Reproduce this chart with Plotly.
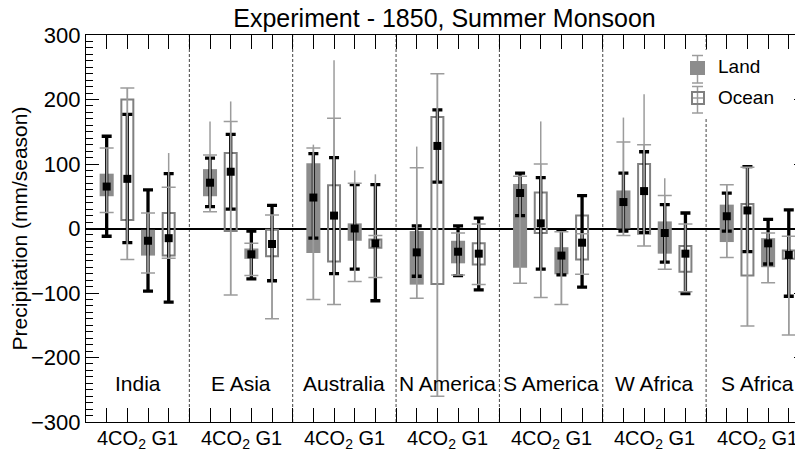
import numpy as np
import plotly.graph_objects as go

regions = ["India", "E Asia", "Australia", "N America", "S America", "W Africa", "S Africa"]

# every row is one region, columns: 4CO2 land, 4CO2 ocean, G1 land, G1 ocean
mid = [
    [65, 77, -19, -15],
    [71, 88, -40, -24],
    [48, 20, 0, -23],
    [-37, 128, -36, -39],
    [55, 8, -42, -22],
    [41, 58, -7, -39],
    [19, 28, -23, -41],
]
bar_lo = [
    [50, 13, -42, -42],
    [50, -4, -47, -43],
    [-38, -51, -19, -30],
    [-87, -86, -54, -56],
    [-61, -7, -71, -48],
    [0, -8, -39, -67],
    [-21, -73, -60, -47],
]
bar_hi = [
    [85, 200, -2, 24],
    [92, 117, -31, -2],
    [101, 67, 8, -17],
    [-4, 173, -19, -23],
    [69, 56, -29, 20],
    [59, 100, 11, -27],
    [37, 38, -15, -34],
]
# black error bars
blk_lo = [
    [-12, -22, -97, -114],
    [34, 30, -78, -81],
    [-15, -70, -63, -112],
    [-74, 72, -73, -95],
    [20, -63, -72, -91],
    [-4, -6, -52, -101],
    [-4, -36, -55, -105],
]
blk_hi = [
    [143, 177, 60, 85],
    [109, 146, -4, 36],
    [116, 110, 68, 68],
    [4, 184, 4, 16],
    [86, 79, -3, 51],
    [86, 119, 37, 24],
    [55, 96, 14, 29],
]
# grey whisker caps
cap_lo = [
    [25, -48, -69, -46],
    [26, -103, -73, -140],
    [-110, -118, -82, -76],
    [-108, -260, -72, -87],
    [-85, -107, -118, -71],
    [-11, -27, -63, -98],
    [-45, -151, -84, -165],
]
cap_hi = [
    [125, 218, 24, 64],
    [114, 166, -23, 21],
    [125, 171, 70, -11],
    [94, 240, -7, 7],
    [81, 100, -5, -8],
    [134, 130, 51, 7],
    [68, 95, -7, -12],
]
# top end of the thin grey line (bottom ends at the cap)
line_hi = [
    [125, 218, 24, 117],
    [166, 197, -23, 21],
    [130, 261, 90, 84],
    [127, 240, -7, 7],
    [81, 166, -5, -8],
    [172, 208, 78, 7],
    [68, 95, -7, -12],
]

FONT = "Liberation Sans, Arial, sans-serif"
GREY_BAR = "#8c8c8c"
GREY_BOX = "#808080"
GREY_LINE = "#9c9c9c"

n_reg = len(regions)
xpos = np.array([[5 * r + k + 1 for k in range(4)] for r in range(n_reg)])

mid_a = np.array(mid)
lo_a, hi_a = np.array(bar_lo), np.array(bar_hi)
land = [0, 2]
ocean = [1, 3]

traces = []

# land boxes (filled)
traces.append(go.Bar(x=xpos[:, land].ravel(), base=lo_a[:, land].ravel(),
                     y=(hi_a - lo_a)[:, land].ravel(), width=0.68,
                     marker=dict(color=GREY_BAR, line=dict(width=0))))
# ocean boxes (open)
traces.append(go.Bar(x=xpos[:, ocean].ravel(), base=lo_a[:, ocean].ravel(),
                     y=(hi_a - lo_a)[:, ocean].ravel(), width=0.58,
                     marker=dict(color="rgba(0,0,0,0)", line=dict(width=2, color=GREY_BOX))))

x_all = xpos.ravel()
m_all = mid_a.ravel()
clear = dict(size=1, color="rgba(0,0,0,0)")

# black error bars
traces.append(go.Scatter(x=x_all, y=m_all, mode="markers", marker=clear,
                         error_y=dict(type="data", symmetric=False,
                                      array=np.array(blk_hi).ravel() - m_all,
                                      arrayminus=m_all - np.array(blk_lo).ravel(),
                                      color="black", thickness=3.3, width=5)))
# thin grey line over the full range
traces.append(go.Scatter(x=x_all, y=m_all, mode="markers", marker=clear,
                         error_y=dict(type="data", symmetric=False,
                                      array=np.array(line_hi).ravel() - m_all,
                                      arrayminus=m_all - np.array(cap_lo).ravel(),
                                      color=GREY_LINE, thickness=1.5, width=0)))
# grey caps
traces.append(go.Scatter(x=x_all, y=m_all, mode="markers", marker=clear,
                         error_y=dict(type="data", symmetric=False,
                                      array=np.array(cap_hi).ravel() - m_all,
                                      arrayminus=m_all - np.array(cap_lo).ravel(),
                                      color=GREY_LINE, thickness=1.5, width=7)))
# centre squares
traces.append(go.Scatter(x=x_all, y=m_all, mode="markers", yaxis="y2",
                         marker=dict(symbol="square", size=8, color="black",
                                     line=dict(width=0))))

# the page body adds 8px around the figure, so the figure is 8px smaller
OFF = 8
W, H = 803 - OFF, 455 - OFF
L, R, T, B = 86 - OFF, 0, 35 - OFF, 33
pw, ph = W - L - R, H - T - B
unit = 20.67


def px_x(p):
    return (p - OFF - L) / pw


def px_y(p):
    return (H - B - (p - OFF)) / ph


shapes = []
for r in range(1, n_reg):
    shapes.append(dict(type="line", xref="x", yref="paper", x0=5 * r, x1=5 * r, y0=0, y1=1,
                       line=dict(color="#444444", width=1, dash="3px,2px"), layer="below"))
# blank patch behind the legend
shapes.append(dict(type="rect", xref="paper", yref="paper",
                   x0=px_x(686), x1=px_x(795), y0=px_y(118), y1=px_y(50),
                   fillcolor="white", line=dict(width=0), layer="below"))


def pline(x0, y0, x1, y1, color, w):
    return dict(type="line", xref="paper", yref="paper", x0=px_x(x0), x1=px_x(x1),
                y0=px_y(y0), y1=px_y(y1), line=dict(color=color, width=w), layer="above")


# legend icons
shapes += [
    pline(697.5, 55.5, 697.5, 83, GREY_LINE, 1.5),
    pline(692, 55.5, 703, 55.5, GREY_LINE, 1.5),
    pline(692, 83, 703, 83, GREY_LINE, 1.5),
    dict(type="rect", xref="paper", yref="paper", x0=px_x(690), x1=px_x(705),
         y0=px_y(75), y1=px_y(61), fillcolor=GREY_BAR, line=dict(width=0), layer="above"),
    pline(697.5, 86.5, 697.5, 113, GREY_LINE, 1.5),
    pline(692, 86.5, 703, 86.5, GREY_LINE, 1.5),
    pline(692, 113, 703, 113, GREY_LINE, 1.5),
    pline(692, 98, 703, 98, GREY_LINE, 1.5),
    dict(type="rect", xref="paper", yref="paper", x0=px_x(692), x1=px_x(704),
         y0=px_y(104), y1=px_y(92), fillcolor="rgba(0,0,0,0)",
         line=dict(width=2, color=GREY_BOX), layer="above"),
]

annotations = []
for r, name in enumerate(regions):
    cx = 5 * r + 2.5
    annotations.append(dict(x=cx, y=-240, xref="x", yref="y", text=name, showarrow=False,
                            font=dict(size=21, color="black", family=FONT)))
    annotations.append(dict(x=cx, y=0, xref="x", yref="paper", yanchor="top", yshift=-3,
                            text="4CO<sub>2</sub> G1", showarrow=False,
                            font=dict(size=20, color="black", family=FONT)))
for label, py in [("Land", 67), ("Ocean", 98)]:
    annotations.append(dict(x=px_x(716), y=px_y(py), xref="paper", yref="paper",
                            xanchor="left", yanchor="middle", text=label, showarrow=False,
                            font=dict(size=19, color="black", family=FONT)))

yticks = list(range(-300, 301, 100))

layout = go.Layout(
    width=W, height=H, margin=dict(l=L, r=R, t=T, b=B, autoexpand=False),
    paper_bgcolor="white", plot_bgcolor="white",
    showlegend=False, barmode="overlay",
    font=dict(family=FONT, color="black"),
    title=dict(text="Experiment - 1850, Summer Monsoon", x=0.5, xref="paper",
               y=1 - (18 - OFF) / H, yref="container", yanchor="middle",
               font=dict(size=25, color="black", family=FONT)),
    xaxis=dict(range=[0, pw / unit], tickvals=list(range(1, 5 * n_reg)),
               ticks="inside", ticklen=14, tickcolor="black", tickwidth=1,
               showticklabels=False, showline=True, linecolor="black", linewidth=1,
               mirror="ticks", showgrid=False, zeroline=False, automargin=False),
    yaxis=dict(range=[-300, 300], tickvals=yticks, ticks="inside", ticklen=13,
               tickcolor="black", tickwidth=1, showline=True, linecolor="black",
               linewidth=1.2, showgrid=False, zeroline=True, zerolinecolor="black",
               zerolinewidth=1.5, tickfont=dict(size=22, color="black"),
               ticklabelstandoff=0, automargin=False,
               minor=dict(dtick=10, ticks="inside", ticklen=7, tickcolor="black",
                          tickwidth=1, showgrid=False),
               title=dict(text="Precipitation (mm/season)", standoff=5,
                          font=dict(size=21, color="black"))),
    yaxis2=dict(range=[-300, 300], overlaying="y", side="right", tickvals=yticks,
                ticks="inside", ticklen=9, tickcolor="black", showticklabels=False,
                showline=True, linecolor="black", showgrid=False, zeroline=False,
                automargin=False,
                minor=dict(dtick=10, ticks="inside", ticklen=3, tickcolor="black",
                           showgrid=False)),
    shapes=shapes, annotations=annotations,
)

fig = go.Figure(data=traces, layout=layout)
fig.write_html("out.html")
